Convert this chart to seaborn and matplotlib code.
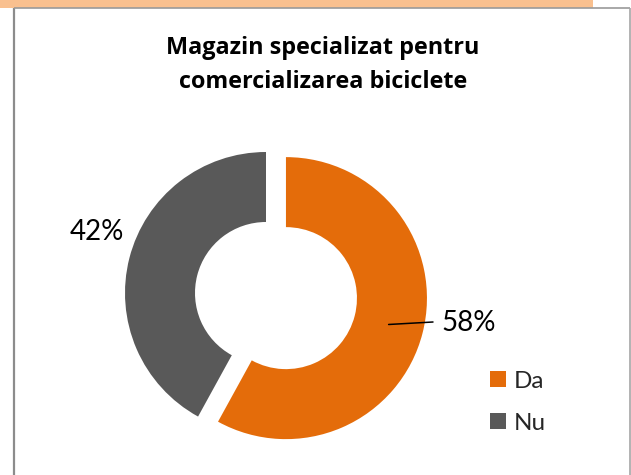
import math
import matplotlib
matplotlib.use("Agg")
import matplotlib.pyplot as plt
from matplotlib.patches import Rectangle
import seaborn as sns

# Survey answers and their shares (percent)
categories = ["Da", "Nu"]
shares = [58, 42]
title_lines = ["Magazin specializat pentru", "comercializarea biciclete"]

W, H = 631, 475

sns.set_theme(style="white")
plt.rcParams["font.family"] = ["Lato", "DejaVu Sans"]

palette = sns.color_palette(["#E46C0A", "#595959"])

fig = plt.figure(figsize=(W / 100, H / 100), dpi=100)
ax = fig.add_axes([0, 0, 1, 1])


def Y(y):
    """Convert a top-down pixel row into the axes' bottom-up coordinate."""
    return H - y


# Doughnut: first slice pulled out from the ring
cx, cy, R, ring = 266, 293, 141, 70
pull = [20.6, 0]
wedges, _ = ax.pie(
    shares,
    colors=palette,
    startangle=90,
    counterclock=False,
    explode=pull,
    radius=R,
    center=(cx, Y(cy)),
    wedgeprops=dict(width=ring, edgecolor="none", linewidth=0),
    frame=True,
)

ax.set_xlim(0, W)
ax.set_ylim(0, H)
ax.set_aspect("auto")
ax.set_axis_off()

# Page strip and chart frame
ax.add_patch(Rectangle((0, Y(7.5)), 593, 7.5, facecolor="#F9C08F",
                       edgecolor="none", zorder=0))
ax.plot([14, 14], [Y(8), Y(480)], color="#8C8C8C", lw=1.6, solid_capstyle="butt")
ax.plot([14, 630], [Y(8), Y(8)], color="#9A9A9A", lw=1.2, solid_capstyle="butt")
ax.plot([630, 630], [Y(8), Y(480)], color="#A6A6A6", lw=1.2, solid_capstyle="butt")

# Title, one text per line
for text, base in zip(title_lines, [54, 88]):
    ax.text(323, Y(base), text, ha="center", va="baseline", fontsize=16.8,
            fontweight="bold", color="black", family=["Open Sans", "DejaVu Sans"])

# Percent labels; the orange slice gets a leader line from the middle of its ring
label_spots = {"Da": (441, 323, "left", (433, 322)), "Nu": (97, 232, "center", None)}
for w, v, name in zip(wedges, shares, categories):
    lx, ly, ha, leader_end = label_spots[name]
    if leader_end is not None:
        mid = math.radians((w.theta1 + w.theta2) / 2)
        rm = w.r - w.width / 2
        sx = w.center[0] + rm * math.cos(mid)
        sy = w.center[1] + rm * math.sin(mid)
        ax.plot([sx, leader_end[0]], [sy, Y(leader_end[1])], color="black", lw=1.1)
    ax.text(lx, Y(ly), f"{v}%", ha=ha, va="center", fontsize=20, color="black")

leg = ax.legend(
    wedges, categories,
    loc="upper left", bbox_to_anchor=(490 / W, 1 - 371 / H),
    frameon=False, fontsize=17.5,
    handlelength=0.66, handleheight=0.63, handletextpad=0.33,
    labelspacing=0.85, borderpad=0, borderaxespad=0,
)

fig.savefig("out.png", dpi=100, facecolor="white")
